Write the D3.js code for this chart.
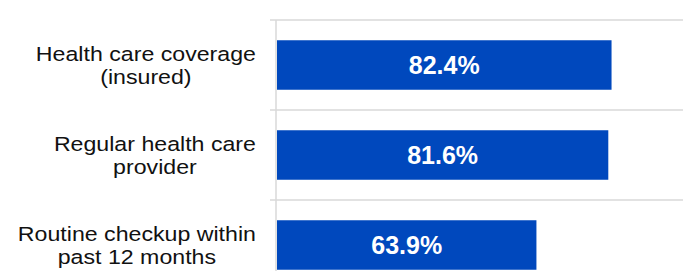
<!DOCTYPE html>
<meta charset="utf-8">
<style>
body { margin: 0; background: #fff; }
.grid line { stroke: #d9d9d9; stroke-width: 1.5px; }
.labels text { font-family: "Liberation Sans", Arial, sans-serif; font-size: 20.5px; fill: #111; }
.values text { font-family: "Liberation Sans", Arial, sans-serif; font-size: 25px; font-weight: bold; fill: #fff; }
</style>
<svg width="683" height="271"></svg>
<script src="https://d3js.org/d3.v7.min.js"></script>
<script>
let svg = d3.select("svg");

let categories = [
  ["Health care coverage", "(insured)"],
  ["Regular health care", "provider"],
  ["Routine checkup within", "past 12 months"]
];
let values = [82.4, 81.6, 63.9];
let valueLabels = ["82.4%", "81.6%", "63.9%"];

let data = values.map(function(v, i) { return {key: i, lines: categories[i], value: v, label: valueLabels[i]}; });

let x = d3.scaleLinear().domain([0, 100]).range([277, 683]);
let y = d3.scaleBand()
  .domain(data.map(function(d) { return d.key; }))
  .range([20, 290])
  .paddingInner(0.45)
  .paddingOuter(0.225);

// horizontal separators between categories
let grid = svg.append("g").attr("class", "grid");
let bounds = data.map(function(d) { return y(d.key) - y.step() * y.paddingOuter(); });
grid.selectAll("line.h")
  .data(bounds)
  .enter().append("line")
  .attr("class", "h")
  .attr("x1", 270).attr("x2", 683)
  .attr("y1", function(d) { return d; })
  .attr("y2", function(d) { return d; });
grid.append("line")
  .attr("x1", x(0) - 1).attr("x2", x(0) - 1)
  .attr("y1", 20).attr("y2", 290);

// bars
svg.append("g")
  .selectAll("rect")
  .data(data)
  .enter().append("rect")
  .attr("x", x(0))
  .attr("y", function(d) { return y(d.key); })
  .attr("width", function(d) { return x(d.value) - x(0); })
  .attr("height", y.bandwidth())
  .attr("fill", "#0048bd");

// value labels
svg.append("g").attr("class", "values")
  .selectAll("text")
  .data(data)
  .enter().append("text")
  .attr("x", function(d) { return (x(0) + x(d.value)) / 2; })
  .attr("y", function(d) { return y(d.key) + y.bandwidth() / 2 + 9; })
  .attr("text-anchor", "middle")
  .text(function(d) { return d.label; });

// category labels: lines centred, block right-aligned, text a bit wide as in the source
let labelRight = 256, stretch = 1.13;
let lg = svg.append("g").attr("class", "labels");
data.forEach(function(d) {
  let cy = y(d.key) + y.bandwidth() / 2;
  let t = lg.append("text").attr("text-anchor", "middle");
  d.lines.forEach(function(line, j) {
    t.append("tspan").attr("x", 0).attr("y", cy - 4 + j * 23).text(line);
  });
  let w = d3.max(t.selectAll("tspan").nodes(), function(n) { return n.getComputedTextLength(); }) * stretch;
  t.attr("transform", "translate(" + (labelRight - w / 2) + ",0) scale(" + stretch + ",1)");
});
</script>
